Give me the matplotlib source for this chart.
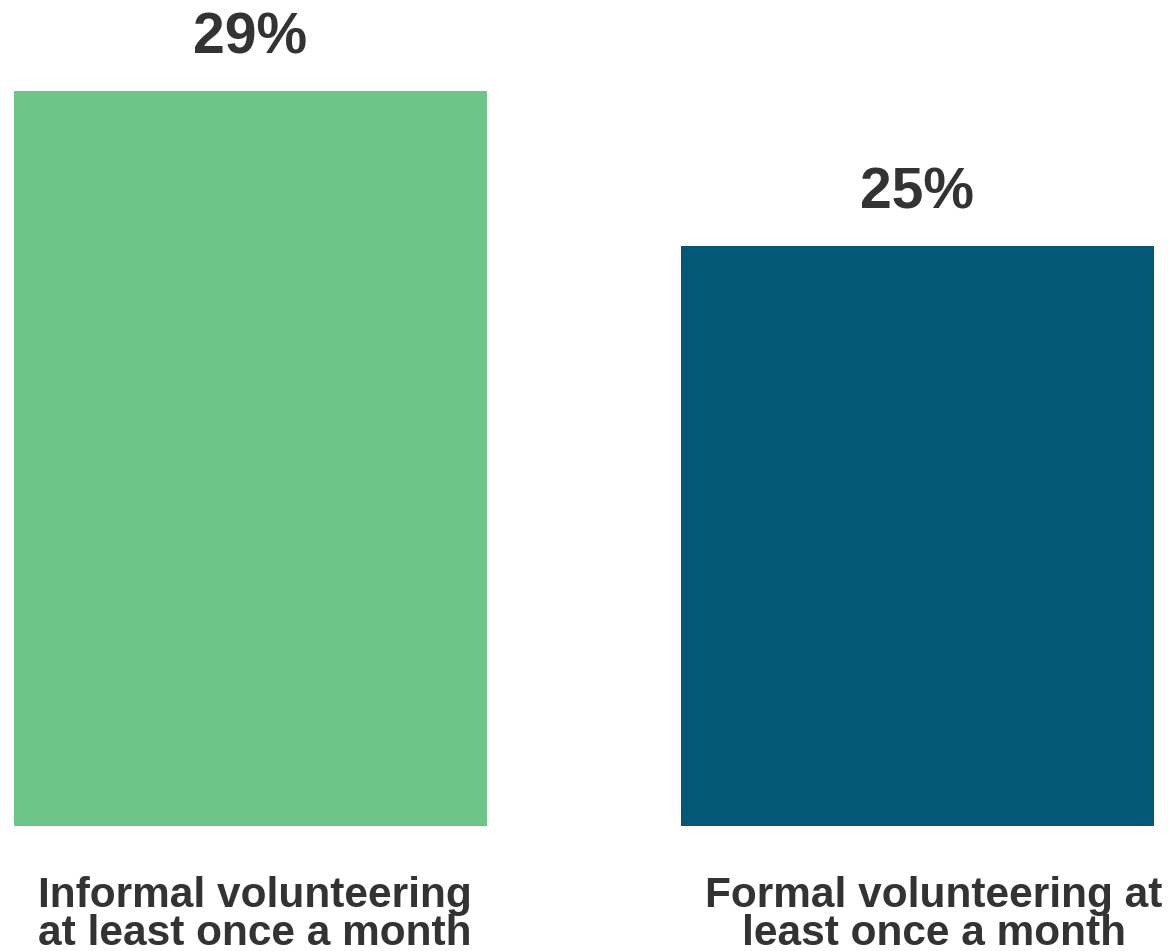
import matplotlib.pyplot as plt
import matplotlib.transforms as mtransforms

plt.rcParams['font.family'] = ['Liberation Sans', 'DejaVu Sans']

categories = ["Informal volunteering\nat least once a month",
              "Formal volunteering at\nleast once a month"]
values = [29, 25]
value_labels = ["29%", "25%"]
colors = ["#6DC587", "#025876"]
text_color = "#333333"

W, H = 1171, 951
fig = plt.figure(figsize=(W / 100, H / 100), dpi=100)
ax = fig.add_axes([0, 125 / H, 1, (H - 91 - 125) / H])

x = list(range(len(values)))
ax.bar(x, values, width=0.708, color=colors, bottom=0)
ax.set_ylim(10, 29)
ax.set_xlim(-250.5 / 667, (W - 250.5) / 667)

for xi, v, lab in zip(x, values, value_labels):
    ax.annotate(lab, (xi, v), xytext=(0, 27), textcoords="offset points",
                ha="center", va="baseline", fontsize=41, fontweight="bold",
                color=text_color, annotation_clip=False)

# category labels sit slightly right of the bar centres in the original
trans = mtransforms.blended_transform_factory(ax.transData, ax.transAxes)
label_shift = [3, 12]  # points
for xi, cat, dx in zip(x, categories, label_shift):
    ax.annotate(cat, (xi, -0.068), xycoords=trans, xytext=(dx, 0),
                textcoords="offset points", ha="center", va="top",
                fontsize=30.5, fontweight="bold", color=text_color,
                linespacing=0.95, annotation_clip=False)

ax.axis("off")
fig.savefig("out.png", dpi=100)
